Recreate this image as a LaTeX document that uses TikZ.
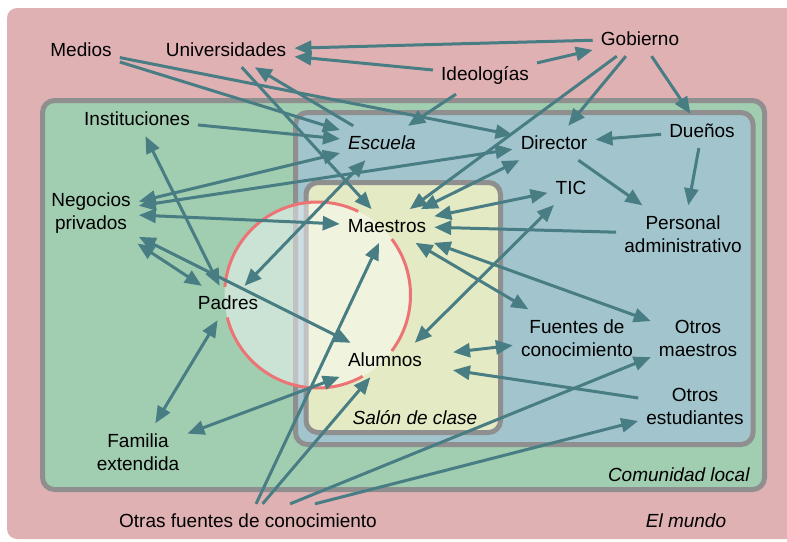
\documentclass[tikz,border=0pt]{standalone}
\usepackage{fontspec}
\setmainfont{Liberation Sans}
\usetikzlibrary{arrows.meta}
\definecolor{mundo}{RGB}{224,177,179}
\definecolor{comunidad}{RGB}{161,205,177}
\definecolor{escuela}{RGB}{162,196,205}
\definecolor{salon}{RGB}{228,234,196}
\definecolor{borde}{RGB}{143,143,143}
\definecolor{flecha}{RGB}{72,125,132}
\definecolor{aro}{RGB}{236,116,116}
\tikzset{
  actor/.style={
    rectangle,
    inner xsep=8pt,
    inner ysep=10pt,
    align=center,
    font=\fontsize{19}{23}\selectfont
  }
}
\tikzset{
  zona/.style={
    rectangle,
    draw=borde,
    line width=5pt,
    rounded corners=12pt
  }
}
\tikzstyle{arrow} = [->, > = {Triangle[length=17pt, width=14pt]}, color=flecha, line width=3pt]
\tikzstyle{biarrow} = [<->, > = {Triangle[length=17pt, width=14pt]}, color=flecha, line width=3pt]
\def\lugar#1{\textit{#1}}

\begin{document}
\begin{tikzpicture}[x=1pt, y=-1pt]
    \useasboundingbox (0,0) rectangle (787,541);
    \clip (0,0) rectangle (787,541);
    \fill[mundo, rounded corners=10pt] (7,8) rectangle (800,539);
    \draw[zona, fill=comunidad] (42.5,100.5) rectangle (764.5,489.5);
    \draw[zona, fill=escuela] (295.5,112.5) rectangle (753,444.5);
    \draw[zona, fill=salon] (306,182.5) rectangle (500.5,432.5);
    \coordinate (aula) at (317.5,295);
    \fill[white, opacity=0.45] (aula) circle[radius=93];
    \draw[aro, line width=3pt] (aula) ++(-64:93) arc[start angle=-64, end angle=-175, radius=93];
    \draw[aro, line width=3pt] (aula) ++(-194:93) arc[start angle=-194, end angle=-299, radius=93];
    \draw[aro, line width=3pt] (aula) ++(37:93) arc[start angle=37, end angle=-37, radius=93];
    \node[actor] (med) at (81, 50) {Medios};
    \node[actor] (uni) at (226, 50) {Universidades};
    \node[actor] (gob) at (640, 39) {Gobierno};
    \node[actor] (ideo) at (485, 75) {Ideologías};
    \node[actor] (inst) at (137, 119) {Instituciones};
    \node[actor] (esc) at (382, 143) {\lugar{Escuela}};
    \node[actor] (dir) at (554, 143) {Director};
    \node[actor] (due) at (702, 131) {Dueños};
    \node[actor] (tic) at (571, 188) {TIC};
    \node[actor] (pers) at (683, 234) {Personal\\administrativo};
    \node[actor] (neg) at (91, 213) {Negocios\\privados};
    \node[actor] (mae) at (387, 226) {Maestros};
    \node[actor] (pad) at (228, 303) {Padres};
    \node[actor] (alu) at (385, 360) {Alumnos};
    \node[actor] (fue) at (577, 338) {Fuentes de\\conocimiento};
    \node[actor] (omae) at (698, 338) {Otros\\maestros};
    \node[actor] (oest) at (695, 406.5) {Otros\\estudiantes};
    \node[actor] (fam) at (138, 452) {Familia\\extendida};
    \node[actor] (ofue) at (248, 521) {Otras fuentes de conocimiento};
    \node[actor] (lsalon) at (415, 418) {\lugar{Salón de clase}};
    \node[actor] (lcom) at (679, 475) {\lugar{Comunidad local}};
    \node[actor] (lmundo) at (686, 521) {\lugar{El mundo}};
    \draw[arrow] (gob) to (uni);
    \draw[arrow] (ideo) to (uni);
    \draw[arrow] (ideo) to (gob);
    \draw[arrow] (ideo) to (esc);
    \draw[arrow] (gob) to (dir);
    \draw[arrow] (gob) to (mae);
    \draw[arrow] (gob) to (due);
    \draw[arrow] (due) to (dir);
    \draw[arrow] (due) to (pers);
    \draw[arrow] (dir) to (pers);
    \draw[arrow] (med) to (esc);
    \draw[arrow] (med) to (dir);
    \draw[arrow] (inst) to (esc);
    \draw[arrow] (esc) to (uni);
    \draw[arrow] (uni) to (mae);
    \draw[arrow] (pers) to (mae);
    \draw[arrow, shorten >=23pt] (oest) to (alu);
    \draw[arrow] (ofue) to (mae);
    \draw[arrow] (ofue) to (alu);
    \draw[arrow] (ofue) to (omae);
    \draw[arrow] (ofue) to (oest);
    \draw[biarrow] (esc) to (neg);
    \draw[biarrow] (dir) to (neg);
    \draw[biarrow] (pad) to (esc);
    \draw[biarrow] (dir) to (mae);
    \draw[biarrow] (mae) to (tic);
    \draw[biarrow] (tic) to (alu.30);
    \draw[biarrow] (mae) to (fue);
    \draw[biarrow] (mae) to (omae);
    \draw[biarrow, shorten <=23pt] (alu) to (fue);
    \draw[biarrow] (neg) to (mae);
    \draw[biarrow] (neg) to (pad);
    \draw[biarrow] (neg) to (alu);
    \draw[biarrow] (inst) to (pad);
    \draw[biarrow] (pad) to (fam);
    \draw[biarrow] (fam) to (alu);
\end{tikzpicture}
\end{document}
